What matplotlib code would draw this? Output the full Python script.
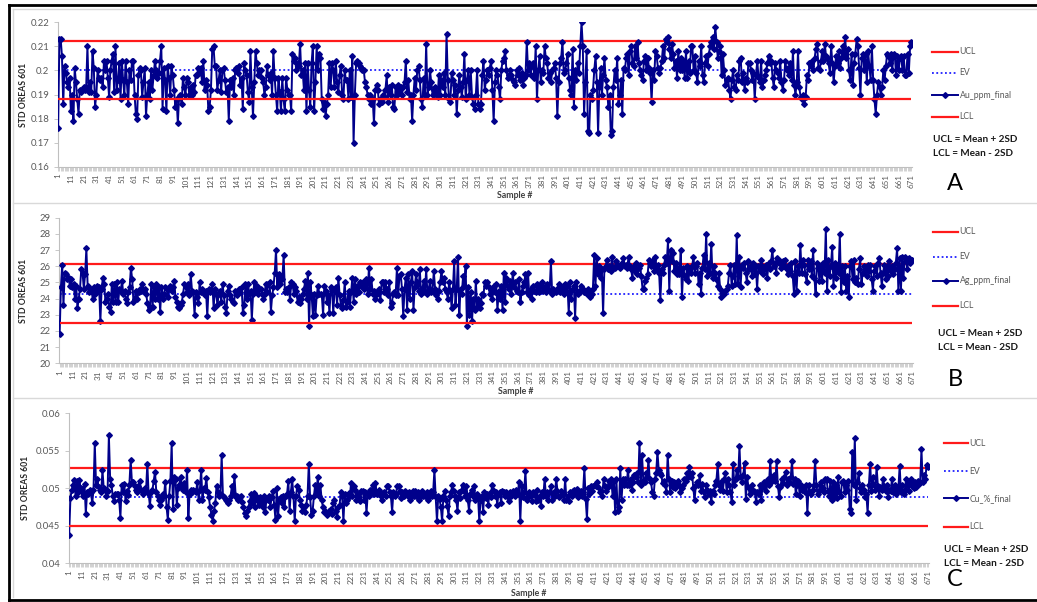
import matplotlib
matplotlib.use("Agg")
import matplotlib.pyplot as plt
import numpy as np
from matplotlib.lines import Line2D

plt.rcParams["font.family"] = ["Lato", "DejaVu Sans"]

W, H = 1037, 602

# Au_ppm_final, samples 1..671
au_ppm = [
    0.176, 0.213, 0.213, 0.206, 0.186, 0.202, 0.199, 0.195, 0.193, 0.197,
    0.183, 0.190, 0.179, 0.201, 0.195, 0.188, 0.182, 0.192, 0.191, 0.192,
    0.193, 0.192, 0.193, 0.210, 0.191, 0.195, 0.191, 0.208, 0.201, 0.185,
    0.190, 0.200, 0.197, 0.196, 0.197, 0.193, 0.204, 0.200, 0.204, 0.197,
    0.189, 0.200, 0.204, 0.207, 0.191, 0.210, 0.192, 0.196, 0.203, 0.188,
    0.204, 0.196, 0.190, 0.204, 0.195, 0.186, 0.200, 0.196, 0.204, 0.204,
    0.190, 0.182, 0.180, 0.198, 0.201, 0.200, 0.189, 0.195, 0.201, 0.181,
    0.190, 0.195, 0.188, 0.200, 0.192, 0.198, 0.204, 0.200, 0.197, 0.199,
    0.204, 0.210, 0.184, 0.201, 0.196, 0.183, 0.202, 0.197, 0.190, 0.202,
    0.198, 0.192, 0.185, 0.188, 0.178, 0.189, 0.190, 0.186, 0.197, 0.193,
    0.190, 0.197, 0.195, 0.190, 0.193, 0.190, 0.194, 0.191, 0.198, 0.198,
    0.201, 0.199, 0.201, 0.195, 0.204, 0.192, 0.196, 0.194, 0.183, 0.185,
    0.192, 0.209, 0.210, 0.202, 0.202, 0.192, 0.196, 0.200, 0.191, 0.200,
    0.201, 0.196, 0.191, 0.193, 0.179, 0.196, 0.193, 0.197, 0.190, 0.200,
    0.201, 0.199, 0.202, 0.194, 0.197, 0.184, 0.203, 0.200, 0.198, 0.191,
    0.187, 0.208, 0.193, 0.181, 0.195, 0.208, 0.203, 0.198, 0.200, 0.200,
    0.197, 0.195, 0.190, 0.193, 0.202, 0.198, 0.196, 0.199, 0.190, 0.208,
    0.197, 0.190, 0.183, 0.197, 0.191, 0.183, 0.197, 0.188, 0.183, 0.197,
    0.192, 0.190, 0.190, 0.183, 0.207, 0.204, 0.205, 0.200, 0.203, 0.202,
    0.211, 0.198, 0.200, 0.192, 0.203, 0.183, 0.203, 0.192, 0.185, 0.203,
    0.210, 0.183, 0.195, 0.210, 0.200, 0.207, 0.205, 0.188, 0.184, 0.187,
    0.181, 0.186, 0.190, 0.203, 0.193, 0.203, 0.200, 0.193, 0.204, 0.195,
    0.191, 0.198, 0.202, 0.190, 0.188, 0.200, 0.196, 0.196, 0.188, 0.200,
    0.189, 0.206, 0.170, 0.190, 0.203, 0.204, 0.203, 0.202, 0.201, 0.200,
    0.200, 0.195, 0.193, 0.190, 0.188, 0.190, 0.186, 0.188, 0.178, 0.192,
    0.194, 0.192, 0.186, 0.188, 0.187, 0.190, 0.189, 0.192, 0.198, 0.187,
    0.193, 0.190, 0.194, 0.185, 0.184, 0.193, 0.190, 0.194, 0.191, 0.193,
    0.190, 0.193, 0.195, 0.204, 0.191, 0.196, 0.188, 0.190, 0.179, 0.190,
    0.197, 0.192, 0.200, 0.202, 0.196, 0.188, 0.185, 0.197, 0.190, 0.211,
    0.190, 0.193, 0.200, 0.195, 0.190, 0.192, 0.193, 0.191, 0.189, 0.198,
    0.190, 0.196, 0.193, 0.199, 0.190, 0.215, 0.196, 0.188, 0.187, 0.199,
    0.196, 0.190, 0.194, 0.182, 0.192, 0.198, 0.193, 0.189, 0.195, 0.207,
    0.188, 0.196, 0.200, 0.190, 0.200, 0.189, 0.186, 0.184, 0.190, 0.200,
    0.186, 0.184, 0.186, 0.198, 0.204, 0.192, 0.196, 0.200, 0.198, 0.201,
    0.204, 0.192, 0.179, 0.195, 0.200, 0.198, 0.193, 0.188, 0.200, 0.204,
    0.205, 0.208, 0.200, 0.197, 0.198, 0.200, 0.198, 0.196, 0.195, 0.194,
    0.200, 0.198, 0.201, 0.196, 0.199, 0.194, 0.197, 0.198, 0.212, 0.200,
    0.203, 0.198, 0.202, 0.203, 0.197, 0.210, 0.188, 0.200, 0.206, 0.195,
    0.200, 0.199, 0.210, 0.205, 0.203, 0.197, 0.199, 0.195, 0.200, 0.201,
    0.203, 0.197, 0.181, 0.195, 0.203, 0.205, 0.212, 0.199, 0.200, 0.203,
    0.207, 0.197, 0.192, 0.190, 0.209, 0.185, 0.200, 0.196, 0.203, 0.199,
    0.210, 0.220, 0.210, 0.182, 0.195, 0.208, 0.175, 0.174, 0.190, 0.188,
    0.192, 0.200, 0.206, 0.195, 0.174, 0.193, 0.201, 0.190, 0.198, 0.205,
    0.196, 0.193, 0.185, 0.190, 0.173, 0.175, 0.193, 0.200, 0.196, 0.205,
    0.186, 0.190, 0.196, 0.182, 0.201, 0.200, 0.205, 0.207, 0.198, 0.208,
    0.210, 0.203, 0.202, 0.210, 0.205, 0.212, 0.203, 0.200, 0.198, 0.196,
    0.204, 0.206, 0.200, 0.205, 0.201, 0.199, 0.187, 0.200, 0.196, 0.208,
    0.206, 0.201, 0.199, 0.201, 0.204, 0.210, 0.205, 0.213, 0.212, 0.214,
    0.209, 0.205, 0.211, 0.207, 0.201, 0.204, 0.197, 0.208, 0.200, 0.205,
    0.200, 0.204, 0.197, 0.208, 0.197, 0.204, 0.199, 0.210, 0.210, 0.200,
    0.206, 0.199, 0.195, 0.204, 0.202, 0.210, 0.198, 0.195, 0.203, 0.206,
    0.202, 0.207, 0.210, 0.212, 0.214, 0.209, 0.218, 0.212, 0.205, 0.208,
    0.210, 0.198, 0.207, 0.200, 0.194, 0.196, 0.197, 0.192, 0.188, 0.196,
    0.200, 0.193, 0.192, 0.198, 0.196, 0.204, 0.205, 0.195, 0.199, 0.192,
    0.197, 0.195, 0.203, 0.203, 0.200, 0.196, 0.199, 0.188, 0.198, 0.204,
    0.197, 0.195, 0.204, 0.193, 0.196, 0.198, 0.200, 0.203, 0.206, 0.203,
    0.204, 0.197, 0.193, 0.203, 0.200, 0.199, 0.197, 0.204, 0.195, 0.192,
    0.196, 0.204, 0.200, 0.201, 0.198, 0.203, 0.196, 0.208, 0.194, 0.190,
    0.195, 0.208, 0.193, 0.189, 0.188, 0.190, 0.186, 0.189, 0.198, 0.196,
    0.203, 0.202, 0.204, 0.200, 0.205, 0.209, 0.211, 0.201, 0.200, 0.204,
    0.208, 0.204, 0.211, 0.206, 0.205, 0.203, 0.199, 0.210, 0.203, 0.195,
    0.202, 0.206, 0.203, 0.208, 0.201, 0.205, 0.210, 0.207, 0.214, 0.205,
    0.209, 0.200, 0.196, 0.207, 0.194, 0.203, 0.207, 0.213, 0.210, 0.201,
    0.190, 0.205, 0.207, 0.200, 0.207, 0.195, 0.208, 0.202, 0.196, 0.210,
    0.196, 0.188, 0.182, 0.190, 0.195, 0.193, 0.190, 0.193, 0.200, 0.196,
    0.202, 0.207, 0.206, 0.203, 0.207, 0.200, 0.207, 0.206, 0.198, 0.206,
    0.200, 0.205, 0.206, 0.200, 0.206, 0.198, 0.198, 0.207, 0.199, 0.210, 0.212,
]

# Ag_ppm_final, samples 1..671
ag_ppm = [
    21.8, 24.7, 26.1, 23.6, 25.6, 25.5, 25.2, 25.3, 24.8, 25.2,
    24.7, 24.9, 24.0, 24.8, 23.4, 24.0, 24.6, 25.8, 25.6, 24.6,
    25.5, 27.1, 24.8, 24.4, 24.6, 24.5, 24.0, 24.7, 24.3, 24.8,
    24.5, 24.7, 22.6, 24.6, 25.3, 24.9, 23.8, 24.0, 24.3, 23.5,
    23.2, 24.9, 23.8, 24.9, 23.8, 25.0, 23.8, 24.6, 24.5, 25.1,
    24.3, 24.5, 24.0, 23.7, 24.4, 24.7, 25.9, 25.2, 23.8, 24.0,
    24.5, 24.0, 24.4, 24.6, 24.5, 24.9, 24.5, 24.6, 24.3, 23.7,
    23.3, 23.5, 24.9, 23.5, 24.7, 24.0, 24.9, 24.0, 24.7, 23.2,
    24.7, 24.0, 24.3, 24.7, 24.6, 24.1, 24.6, 24.8, 24.5, 24.7,
    25.1, 24.1, 23.8, 23.5, 23.4, 23.6, 23.8, 24.3, 24.9, 24.7,
    24.4, 24.9, 24.2, 25.5, 24.5, 24.4, 23.0, 24.4, 24.1, 23.7,
    25.0, 24.4, 24.6, 24.4, 24.2, 24.5, 22.9, 24.6, 24.4, 24.5,
    24.9, 23.4, 24.6, 24.3, 23.6, 24.3, 24.5, 23.8, 24.9, 24.2,
    23.5, 23.1, 24.5, 24.8, 24.2, 24.0, 23.8, 23.7, 24.5, 24.2,
    24.5, 24.6, 24.4, 24.7, 23.1, 23.6, 24.9, 24.0, 24.9, 24.3,
    24.5, 22.7, 24.3, 25.0, 24.5, 24.8, 24.3, 24.6, 24.6, 24.3,
    24.0, 24.3, 24.9, 24.4, 24.9, 25.0, 23.2, 24.2, 24.7, 25.6,
    27.0, 24.7, 25.5, 24.9, 25.4, 25.2, 26.7, 24.4, 24.6, 24.4,
    24.7, 23.9, 25.0, 24.9, 24.3, 24.7, 24.5, 23.8, 24.1, 23.7,
    24.0, 24.3, 24.6, 25.1, 24.0, 25.6, 22.3, 25.0, 24.2, 22.9,
    24.3, 23.0, 24.2, 24.8, 24.3, 24.3, 24.2, 23.0, 24.8, 24.5,
    23.8, 24.2, 23.1, 24.7, 24.6, 23.1, 24.5, 24.7, 23.6, 25.3,
    24.2, 23.6, 23.4, 23.9, 25.0, 23.5, 23.8, 24.5, 23.5, 24.4,
    25.3, 23.8, 25.2, 24.3, 24.8, 24.4, 25.0, 24.8, 25.0, 24.6,
    24.7, 25.2, 24.3, 25.9, 24.6, 25.2, 24.3, 24.5, 24.0, 24.3,
    24.5, 24.6, 23.9, 25.0, 25.0, 24.4, 25.0, 24.6, 24.2, 25.0,
    23.5, 23.7, 24.3, 24.4, 24.2, 25.9, 24.2, 25.4, 25.5, 24.6,
    22.9, 24.6, 25.3, 23.3, 25.5, 24.0, 25.0, 25.7, 23.3, 24.7,
    25.5, 25.0, 24.5, 25.8, 24.3, 24.6, 25.1, 24.4, 25.8, 24.3,
    24.6, 25.1, 24.4, 24.5, 25.7, 24.6, 24.2, 24.0, 24.5, 25.0,
    25.7, 25.0, 25.3, 24.6, 24.4, 24.0, 25.0, 24.5, 23.4, 24.6,
    26.3, 23.6, 24.6, 26.6, 23.0, 24.6, 24.3, 25.4, 24.8, 26.0,
    22.3, 24.7, 23.0, 24.4, 22.6, 24.0, 23.3, 25.1, 23.5, 24.0,
    23.4, 23.7, 24.3, 24.2, 25.0, 24.8, 25.0, 24.7, 24.3, 24.6,
    24.0, 24.8, 24.4, 24.9, 23.3, 24.5, 24.0, 24.8, 23.3, 25.6,
    23.8, 25.3, 24.8, 24.6, 25.1, 24.3, 25.6, 24.7, 25.0, 24.5,
    24.4, 25.2, 23.8, 24.4, 24.8, 25.0, 25.5, 24.4, 25.6, 24.2,
    24.6, 24.0, 24.8, 24.5, 24.4, 24.9, 24.6, 24.4, 24.8, 25.0,
    24.5, 24.7, 24.4, 24.9, 24.6, 24.5, 26.3, 24.3, 24.6, 24.5,
    24.4, 24.6, 24.9, 24.4, 24.6, 24.7, 24.3, 24.9, 24.5, 24.8,
    23.1, 25.0, 24.0, 24.6, 24.8, 22.8, 25.0, 24.3, 24.5, 24.4,
    24.8, 24.6, 24.4, 24.5, 24.3, 24.6, 24.4, 24.1, 24.3, 24.6,
    26.7, 24.8, 26.5, 25.5, 26.0, 25.3, 25.8, 23.1, 25.8, 26.0,
    26.4, 25.8, 26.0, 25.7, 26.6, 25.9, 25.9, 26.3, 26.0, 26.1,
    25.9, 26.0, 26.2, 26.5, 26.0, 26.1, 25.9, 26.6, 26.0, 25.8,
    25.3, 26.0, 25.7, 26.2, 25.5, 25.9, 26.1, 25.4, 24.6, 24.6,
    25.1, 25.3, 25.5, 26.4, 26.2, 26.0, 26.4, 25.7, 26.6, 25.9,
    26.1, 25.6, 23.9, 25.8, 25.6, 26.1, 26.6, 26.2, 27.6, 24.5,
    27.0, 26.3, 26.8, 25.7, 26.2, 25.5, 25.9, 25.5, 27.0, 24.1,
    25.9, 25.4, 25.2, 26.0, 25.1, 25.8, 25.6, 26.0, 26.6, 25.6,
    26.0, 26.2, 24.9, 25.6, 24.3, 25.9, 26.7, 25.8, 28.0, 25.4,
    26.2, 25.6, 27.4, 25.3, 26.0, 25.6, 25.2, 24.8, 25.6, 24.6,
    24.1, 24.4, 24.3, 24.5, 24.6, 24.8, 25.6, 26.1, 24.8, 25.4,
    26.1, 24.9, 27.9, 24.9, 26.6, 24.7, 26.1, 25.9, 26.2, 25.6,
    25.0, 26.3, 25.8, 26.0, 25.4, 26.2, 25.5, 26.0, 24.6, 26.0,
    25.7, 26.4, 26.0, 25.5, 25.8, 26.1, 25.3, 26.2, 25.8, 26.3,
    27.0, 26.0, 26.2, 25.6, 26.5, 26.2, 26.3, 25.9, 26.3, 26.0,
    26.4, 25.9, 25.5, 26.1, 25.7, 26.2, 25.4, 24.3, 26.3, 24.5,
    26.0, 25.6, 27.3, 25.6, 26.4, 26.1, 25.5, 25.0, 26.4, 25.8,
    26.3, 25.4, 27.0, 25.3, 24.3, 26.2, 25.9, 25.1, 26.0, 25.1,
    26.2, 25.6, 28.3, 24.5, 26.4, 25.4, 26.0, 27.2, 24.8, 26.2,
    25.3, 26.1, 25.6, 28.0, 24.4, 26.0, 25.0, 26.0, 24.5, 25.4,
    24.1, 26.0, 26.3, 25.2, 26.4, 25.0, 25.3, 24.9, 25.8, 26.5,
    24.9, 25.6, 26.0, 25.8, 25.4, 26.1, 25.7, 26.1, 25.2, 24.5,
    25.7, 26.0, 25.4, 26.2, 26.5, 25.6, 24.8, 25.6, 26.1, 25.2,
    26.0, 25.4, 26.3, 25.7, 26.0, 25.5, 25.8, 26.2, 27.1, 24.5,
    26.5, 24.5, 26.6, 25.3, 26.6, 26.3, 25.8, 26.5, 26.2, 26.4, 26.4,
]

# Cu_%_final, samples 1..671
cu_pct = [
    0.0438, 0.0487, 0.0498, 0.0505, 0.0511, 0.0490, 0.0510, 0.0495, 0.0511, 0.0500,
    0.0495, 0.0490, 0.0506, 0.0466, 0.0495, 0.0493, 0.0498, 0.0495, 0.0480, 0.0498,
    0.0560, 0.0505, 0.0513, 0.0502, 0.0498, 0.0495, 0.0524, 0.0500, 0.0498, 0.0490,
    0.0496, 0.0571, 0.0512, 0.0505, 0.0490, 0.0483, 0.0493, 0.0493, 0.0492, 0.0485,
    0.0461, 0.0505, 0.0495, 0.0506, 0.0483, 0.0497, 0.0491, 0.0505, 0.0538, 0.0508,
    0.0508, 0.0503, 0.0498, 0.0495, 0.0503, 0.0510, 0.0498, 0.0497, 0.0493, 0.0500,
    0.0497, 0.0533, 0.0493, 0.0477, 0.0495, 0.0498, 0.0510, 0.0522, 0.0495, 0.0490,
    0.0485, 0.0478, 0.0485, 0.0492, 0.0490, 0.0509, 0.0475, 0.0458, 0.0490, 0.0510,
    0.0560, 0.0472, 0.0515, 0.0512, 0.0478, 0.0500, 0.0505, 0.0515, 0.0503, 0.0498,
    0.0507, 0.0495, 0.0525, 0.0460, 0.0493, 0.0498, 0.0495, 0.0498, 0.0496, 0.0495,
    0.0508, 0.0485, 0.0498, 0.0525, 0.0485, 0.0500, 0.0498, 0.0514, 0.0495, 0.0488,
    0.0475, 0.0465, 0.0456, 0.0470, 0.0480, 0.0503, 0.0495, 0.0490, 0.0492, 0.0544,
    0.0490, 0.0488, 0.0485, 0.0483, 0.0480, 0.0485, 0.0490, 0.0503, 0.0494, 0.0516,
    0.0488, 0.0490, 0.0485, 0.0488, 0.0490, 0.0482, 0.0475, 0.0467, 0.0463, 0.0470,
    0.0475, 0.0483, 0.0492, 0.0480, 0.0494, 0.0475, 0.0490, 0.0483, 0.0478, 0.0488,
    0.0485, 0.0475, 0.0490, 0.0468, 0.0487, 0.0485, 0.0490, 0.0475, 0.0488, 0.0497,
    0.0478, 0.0458, 0.0500, 0.0463, 0.0485, 0.0488, 0.0480, 0.0490, 0.0475, 0.0490,
    0.0492, 0.0510, 0.0470, 0.0495, 0.0512, 0.0490, 0.0456, 0.0490, 0.0503, 0.0498,
    0.0485, 0.0478, 0.0470, 0.0475, 0.0468, 0.0478, 0.0490, 0.0533, 0.0488, 0.0465,
    0.0470, 0.0490, 0.0505, 0.0495, 0.0515, 0.0490, 0.0505, 0.0485, 0.0475, 0.0468,
    0.0470, 0.0465, 0.0467, 0.0470, 0.0472, 0.0466, 0.0480, 0.0485, 0.0470, 0.0462,
    0.0475, 0.0478, 0.0495, 0.0490, 0.0456, 0.0493, 0.0480, 0.0485, 0.0494, 0.0490,
    0.0507, 0.0490, 0.0503, 0.0498, 0.0485, 0.0492, 0.0488, 0.0483, 0.0496, 0.0497,
    0.0485, 0.0495, 0.0467, 0.0493, 0.0490, 0.0498, 0.0497, 0.0505, 0.0492, 0.0507,
    0.0493, 0.0495, 0.0498, 0.0490, 0.0485, 0.0492, 0.0495, 0.0490, 0.0503, 0.0503,
    0.0495, 0.0490, 0.0469, 0.0495, 0.0490, 0.0493, 0.0503, 0.0503, 0.0497, 0.0487,
    0.0495, 0.0490, 0.0497, 0.0493, 0.0490, 0.0495, 0.0485, 0.0488, 0.0497, 0.0490,
    0.0497, 0.0490, 0.0495, 0.0485, 0.0488, 0.0497, 0.0490, 0.0493, 0.0490, 0.0495,
    0.0485, 0.0488, 0.0497, 0.0490, 0.0495, 0.0524, 0.0488, 0.0456, 0.0490, 0.0486,
    0.0475, 0.0456, 0.0490, 0.0497, 0.0485, 0.0477, 0.0463, 0.0490, 0.0495, 0.0505,
    0.0496, 0.0490, 0.0485, 0.0470, 0.0495, 0.0487, 0.0497, 0.0505, 0.0497, 0.0490,
    0.0503, 0.0485, 0.0470, 0.0493, 0.0498, 0.0490, 0.0503, 0.0485, 0.0493, 0.0490,
    0.0456, 0.0485, 0.0490, 0.0468, 0.0495, 0.0487, 0.0493, 0.0478, 0.0494, 0.0488,
    0.0505, 0.0498, 0.0490, 0.0495, 0.0478, 0.0492, 0.0495, 0.0480, 0.0497, 0.0495,
    0.0490, 0.0495, 0.0490, 0.0483, 0.0495, 0.0490, 0.0497, 0.0495, 0.0490, 0.0498,
    0.0492, 0.0508, 0.0456, 0.0503, 0.0488, 0.0495, 0.0523, 0.0485, 0.0490, 0.0495,
    0.0490, 0.0483, 0.0495, 0.0493, 0.0483, 0.0498, 0.0485, 0.0490, 0.0476, 0.0495,
    0.0490, 0.0513, 0.0490, 0.0495, 0.0485, 0.0495, 0.0503, 0.0485, 0.0495, 0.0490,
    0.0513, 0.0497, 0.0488, 0.0490, 0.0497, 0.0493, 0.0485, 0.0512, 0.0485, 0.0490,
    0.0483, 0.0495, 0.0490, 0.0497, 0.0498, 0.0494, 0.0499, 0.0488, 0.0492, 0.0497,
    0.0490, 0.0495, 0.0527, 0.0486, 0.0459, 0.0500, 0.0493, 0.0503, 0.0497, 0.0503,
    0.0505, 0.0503, 0.0508, 0.0502, 0.0495, 0.0497, 0.0490, 0.0513, 0.0503, 0.0497,
    0.0500, 0.0510, 0.0505, 0.0512, 0.0490, 0.0510, 0.0469, 0.0512, 0.0470, 0.0475,
    0.0527, 0.0485, 0.0512, 0.0505, 0.0513, 0.0505, 0.0525, 0.0505, 0.0512, 0.0498,
    0.0508, 0.0518, 0.0515, 0.0520, 0.0508, 0.0561, 0.0505, 0.0544, 0.0510, 0.0508,
    0.0520, 0.0515, 0.0538, 0.0512, 0.0508, 0.0495, 0.0490, 0.0512, 0.0520, 0.0549,
    0.0525, 0.0520, 0.0518, 0.0507, 0.0510, 0.0505, 0.0495, 0.0545, 0.0512, 0.0495,
    0.0510, 0.0502, 0.0508, 0.0500, 0.0505, 0.0510, 0.0505, 0.0495, 0.0500, 0.0505,
    0.0513, 0.0510, 0.0520, 0.0515, 0.0528, 0.0515, 0.0520, 0.0500, 0.0484, 0.0505,
    0.0508, 0.0505, 0.0518, 0.0497, 0.0506, 0.0495, 0.0488, 0.0505, 0.0498, 0.0492,
    0.0497, 0.0482, 0.0497, 0.0493, 0.0505, 0.0510, 0.0532, 0.0505, 0.0498, 0.0510,
    0.0496, 0.0512, 0.0520, 0.0495, 0.0512, 0.0505, 0.0495, 0.0482, 0.0533, 0.0505,
    0.0512, 0.0525, 0.0515, 0.0556, 0.0515, 0.0508, 0.0518, 0.0534, 0.0486, 0.0515,
    0.0502, 0.0492, 0.0498, 0.0505, 0.0497, 0.0495, 0.0482, 0.0495, 0.0492, 0.0505,
    0.0485, 0.0502, 0.0508, 0.0505, 0.0497, 0.0512, 0.0505, 0.0536, 0.0508, 0.0513,
    0.0518, 0.0510, 0.0536, 0.0503, 0.0488, 0.0502, 0.0512, 0.0507, 0.0515, 0.0522,
    0.0505, 0.0512, 0.0508, 0.0515, 0.0536, 0.0506, 0.0512, 0.0492, 0.0505, 0.0510,
    0.0490, 0.0505, 0.0498, 0.0502, 0.0495, 0.0505, 0.0467, 0.0505, 0.0495, 0.0493,
    0.0498, 0.0505, 0.0537, 0.0505, 0.0492, 0.0497, 0.0505, 0.0508, 0.0500, 0.0495,
    0.0513, 0.0512, 0.0496, 0.0490, 0.0510, 0.0485, 0.0508, 0.0490, 0.0505, 0.0487,
    0.0515, 0.0495, 0.0490, 0.0508, 0.0510, 0.0495, 0.0505, 0.0498, 0.0510, 0.0473,
    0.0467, 0.0548, 0.0505, 0.0567, 0.0485, 0.0508, 0.0520, 0.0500, 0.0495, 0.0505,
    0.0498, 0.0488, 0.0492, 0.0467, 0.0505, 0.0533, 0.0497, 0.0515, 0.0505, 0.0498,
    0.0529, 0.0503, 0.0490, 0.0502, 0.0498, 0.0512, 0.0503, 0.0497, 0.0505, 0.0488,
    0.0498, 0.0497, 0.0512, 0.0495, 0.0505, 0.0492, 0.0498, 0.0500, 0.0530, 0.0495,
    0.0505, 0.0492, 0.0498, 0.0512, 0.0505, 0.0497, 0.0508, 0.0513, 0.0503, 0.0500,
    0.0508, 0.0502, 0.0510, 0.0506, 0.0508, 0.0552, 0.0508, 0.0518, 0.0512, 0.0531, 0.0528,
]

# expected value and control limits (mean +/- 2SD)
au_ev, au_ucl, au_lcl = 0.200, 0.2122, 0.1881
ag_ev, ag_ucl, ag_lcl = 24.30, 26.12, 22.51
cu_ev, cu_ucl, cu_lcl = 0.04884, 0.05275, 0.04497

au_yticks = [0.16, 0.17, 0.18, 0.19, 0.20, 0.21, 0.22]
au_ylabels = ["0.16", "0.17", "0.18", "0.19", "0.2", "0.21", "0.22"]
ag_yticks = [20, 21, 22, 23, 24, 25, 26, 27, 28, 29]
ag_ylabels = [str(t) for t in ag_yticks]
cu_yticks = [0.04, 0.045, 0.05, 0.055, 0.06]
cu_ylabels = ["0.04", "0.045", "0.05", "0.055", "0.06"]

NAVY = "#00008b"
RED = "#ff1a1a"
BLUE = "#1f1fff"
GRID = "#bfbfbf"
TXT = "#595959"


def fx(x):
    return x / W


def fy(y):
    return 1 - y / H


def draw_panel(fig, box, values, ev, ucl, lcl, yticks, ylabels, name, leg, letter):
    left, top, right, bottom = box
    ax = fig.add_axes([fx(left), fy(bottom), fx(right - left), (bottom - top) / H])
    n = len(values)
    x = np.arange(1, n + 1)

    ax.hlines(ucl, x[0], x[-1], color=RED, lw=1.6, zorder=2)
    ax.hlines(ev, x[0], x[-1], color=BLUE, lw=1.3, linestyles=(0, (1, 1.4)), zorder=3)
    ax.plot(x, values, "-", color=NAVY, lw=1.4, marker="D", ms=2.9, mfc=NAVY, mec=NAVY, zorder=4)
    ax.hlines(lcl, x[0], x[-1], color=RED, lw=1.6, zorder=5)

    ax.set_xlim(0.5, n + 0.5)
    ax.set_ylim(yticks[0], yticks[-1])
    ax.set_yticks(yticks)
    ax.set_yticklabels(ylabels)
    major = x[::10]
    ax.set_xticks(major)
    ax.set_xticklabels([str(v) for v in major], rotation=90)
    ax.set_xticks(x, minor=True)
    ax.tick_params(axis="x", which="both", length=3, width=0.5, color=GRID,
                   labelsize=5.8, labelcolor=TXT, pad=2)
    ax.tick_params(axis="y", length=3, width=0.6, color=GRID, labelsize=6.8,
                   labelcolor=TXT, pad=3)
    for side in ("top", "right"):
        ax.spines[side].set_visible(False)
    for side in ("left", "bottom"):
        ax.spines[side].set_color(GRID)
        ax.spines[side].set_linewidth(0.8)
    ax.set_facecolor("none")

    mid_y = (top + bottom) / 2
    fig.text(fx(24 if left < 65 else 26), fy(mid_y), "STD OREAS 601", rotation=90,
             ha="center", va="center", fontsize=6.2, fontweight="bold", color="#262626")

    # hand-placed legend entries and notes
    lx0, lx1, ys, note_x, note_ys, xlab_y = leg
    entries = [
        ("UCL", dict(color=RED, lw=1.6)),
        ("EV", dict(color=BLUE, lw=1.3, ls=(0, (1, 1.4)))),
        (name, dict(color=NAVY, lw=1.4, marker="D", ms=2.9, markevery=[1])),
        ("LCL", dict(color=RED, lw=1.6)),
    ]
    for (label, style), ly in zip(entries, ys):
        fig.add_artist(Line2D([fx(lx0), fx((lx0 + lx1) / 2), fx(lx1)], [fy(ly)] * 3,
                              transform=fig.transFigure, **style))
        fig.text(fx(lx1 + 1.5), fy(ly), label, ha="left", va="center",
                 fontsize=6.2, color=TXT)
    fig.text(fx(note_x), fy(note_ys[0]), "UCL = Mean + 2SD", ha="left", va="center",
             fontsize=7.2, fontweight="bold", color="#1a1a1a")
    fig.text(fx(note_x), fy(note_ys[1]), "LCL = Mean - 2SD", ha="left", va="center",
             fontsize=7.2, fontweight="bold", color="#1a1a1a")
    fig.text(fx(letter[1]), fy(letter[2]), letter[0], ha="center", va="center",
             fontsize=17, color="black")
    fig.text(fx((left + right) / 2 + 30), fy(xlab_y), "Sample #", ha="center",
             va="center", fontsize=6.3, fontweight="bold", color="#404040")
    return ax


fig = plt.figure(figsize=(W / 100, H / 100), dpi=100)

# outer frame and panel separators
frame = [
    ([9, W], [5, 5], "black", 2.0),
    ([9, 9], [5, 600], "black", 2.0),
    ([9, W], [600, 600], "black", 2.0),
    ([13, W], [9, 9], "#d9d9d9", 1.0),
    ([13, 13], [9, 597], "#d9d9d9", 1.0),
    ([13, W], [203, 203], "#d9d9d9", 1.0),
    ([13, W], [398, 398], "#d9d9d9", 1.0),
]
for xs, ys, c, lw in frame:
    fig.add_artist(Line2D([fx(v) for v in xs], [fy(v) for v in ys],
                          transform=fig.transFigure, color=c, lw=lw))

draw_panel(fig, (57.5, 22.3, 912, 166.7), au_ppm, au_ev, au_ucl, au_lcl,
           au_yticks, au_ylabels, "Au_ppm_final",
           (932, 958, [51.7, 72.7, 95, 116.7], 933, [139.3, 153.3], 196),
           ("A", 955, 184))
draw_panel(fig, (59, 217.7, 913, 363.3), ag_ppm, ag_ev, ag_ucl, ag_lcl,
           ag_yticks, ag_ylabels, "Ag_ppm_final",
           (933, 958, [231.7, 256.7, 280.7, 306], 938, [334, 347.3], 392),
           ("B", 955, 380))
draw_panel(fig, (68.5, 413.3, 928.5, 563.3), cu_pct, cu_ev, cu_ucl, cu_lcl,
           cu_yticks, cu_ylabels, "Cu_%_final",
           (944, 968, [443.3, 471, 498.3, 526.7], 944, [550, 564], 593),
           ("C", 955, 580))

fig.savefig("out.png", dpi=100)
